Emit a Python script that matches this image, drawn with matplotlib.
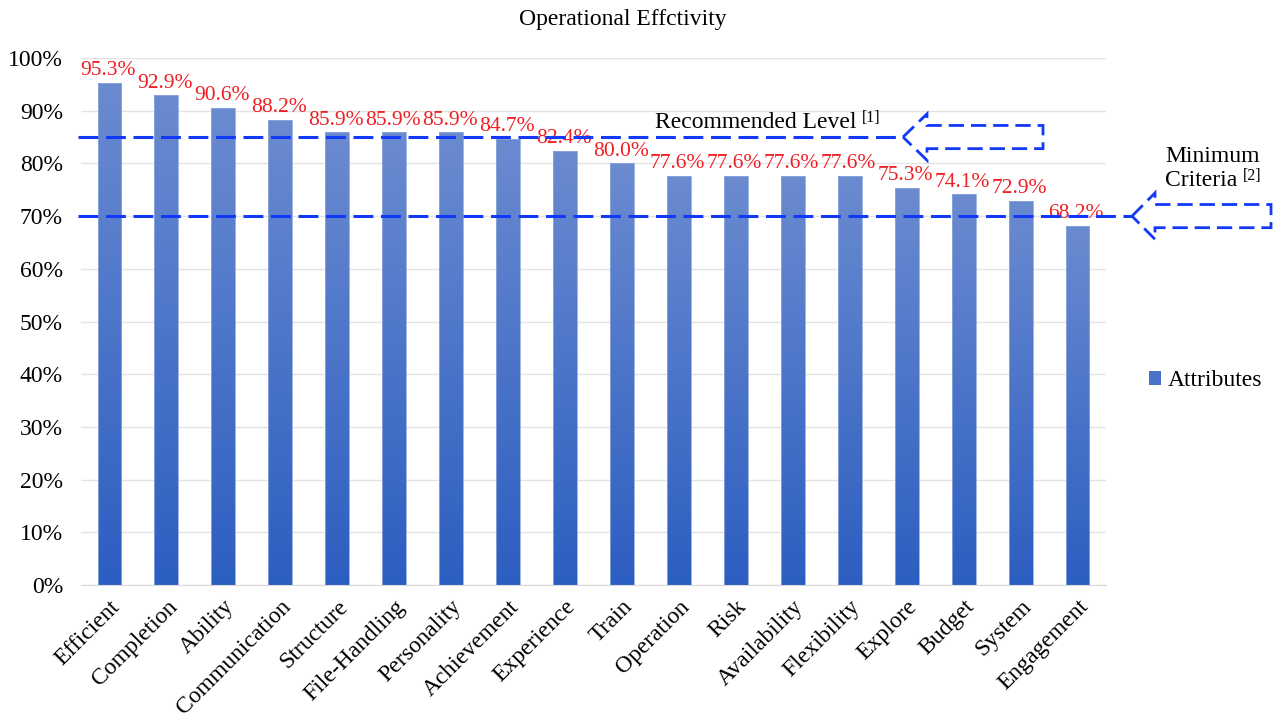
import matplotlib
matplotlib.use("Agg")
import matplotlib.pyplot as plt
import numpy as np
from matplotlib.patches import Polygon, Patch
from matplotlib.colors import LinearSegmentedColormap
from matplotlib.transforms import blended_transform_factory

categories = ["Efficient", "Completion", "Ability", "Communication", "Structure",
              "File-Handling", "Personality", "Achievement", "Experience", "Train",
              "Operation", "Risk", "Availability", "Flexibility", "Explore",
              "Budget", "System", "Engagement"]
values = [95.3, 92.9, 90.6, 88.2, 85.9, 85.9, 85.9, 84.7, 82.4, 80.0,
          77.6, 77.6, 77.6, 77.6, 75.3, 74.1, 72.9, 68.2]
recommended_level = 85.0
minimum_criteria = 70.0
yticks = [0, 10, 20, 30, 40, 50, 60, 70, 80, 90, 100]

plt.rcParams['font.family'] = ['Liberation Serif', 'DejaVu Serif']

W, H = 1274, 717
fig = plt.figure(figsize=(W / 100, H / 100), dpi=100)

def fx(px):
    return px / W

def fy(py):
    return 1 - py / H

ax = fig.add_axes([fx(81), fy(585), fx(1106) - fx(81), fy(58) - fy(585)])

x = np.arange(len(categories))
bars = ax.bar(x, values, width=0.42, color='none', edgecolor='#8fa8dc',
              linewidth=0.6, zorder=3)

cmap = LinearSegmentedColormap.from_list("bar_grad", ["#2c5ec1", "#6b8bd0"])
grad = np.linspace(0, 1, 256).reshape(-1, 1)
for b in bars:
    x0, w, h = b.get_x(), b.get_width(), b.get_height()
    im = ax.imshow(grad, cmap=cmap, origin='lower', aspect='auto',
                   extent=[x0, x0 + w, 0, h], zorder=2)
    im.set_clip_path(b)

for xi, v in zip(x, values):
    ax.annotate(f"{v:.1f}%", (xi, v), xytext=(-1, 2), textcoords='offset points',
                ha='center', va='bottom', color='#f01e23', fontsize=15.5, zorder=5)

ax.set_xlim(-0.5, len(categories) - 0.5)
ax.set_ylim(0, 100)
ax.set_yticks(yticks)
ax.set_yticklabels([f"{t}%" for t in yticks], fontsize=17)
ax.set_xticks(x)
ax.set_xticklabels(categories, rotation=45, ha='right', rotation_mode='anchor',
                   fontsize=17)
ax.tick_params(axis='y', length=0, pad=13)
ax.tick_params(axis='x', length=0, pad=8)
ax.grid(axis='y', color='#e3e3e3', linewidth=1, zorder=0)
ax.set_axisbelow(True)
for s in ['top', 'right', 'left']:
    ax.spines[s].set_visible(False)
ax.spines['bottom'].set_color('#d9d9d9')

# Reference lines with notched arrows, x in axes fraction, y in data units
trans = blended_transform_factory(ax.transAxes, ax.transData)

def ax_frac(px):
    return (px - 81) / (1106 - 81)

line_color = '#1238f8'
dash = (6.5, 2.5)

def level_with_arrow(level, tip_px, head_px, end_px):
    ax.plot([ax_frac(78), ax_frac(tip_px)], [level, level], transform=trans,
            color=line_color, lw=2.2, dashes=dash, clip_on=False, zorder=6)
    hh, bh = 4.4, 2.2
    pts = [(ax_frac(tip_px), level),
           (ax_frac(head_px), level + hh),
           (ax_frac(head_px), level + bh),
           (ax_frac(end_px), level + bh),
           (ax_frac(end_px), level - bh),
           (ax_frac(head_px), level - bh),
           (ax_frac(head_px), level - hh)]
    poly = Polygon(pts, closed=True, fill=False, edgecolor=line_color, lw=2.0,
                   linestyle=(0, (5.5, 2.5)), transform=trans, clip_on=False,
                   zorder=6)
    ax.add_patch(poly)

level_with_arrow(recommended_level, 903, 927, 1043)
level_with_arrow(minimum_criteria, 1132, 1155, 1271)

# Annotations with bracketed reference marks
rec = fig.text(fx(655), fy(123), "Recommended Level", fontsize=17,
               ha='left', va='center')
ax.annotate("[1]", xy=(1, 0.75), xycoords=rec, xytext=(4, 0),
            textcoords='offset points', fontsize=11.5, ha='left', va='center',
            annotation_clip=False)
fig.text(fx(1165), fy(156), "Minimum", fontsize=17, ha='left', va='center')
crit = fig.text(fx(1165), fy(181), "Criteria", fontsize=17, ha='left', va='center')
ax.annotate("[2]", xy=(1, 0.75), xycoords=crit, xytext=(4, 0),
            textcoords='offset points', fontsize=11.5, ha='left', va='center',
            annotation_clip=False)

fig.text(fx(623), fy(20), "Operational Effctivity", fontsize=17,
         ha='center', va='center')

handle = Patch(facecolor='#4a72c8', edgecolor='none')
fig.legend([handle], ["Attributes"], loc='center left',
           bbox_to_anchor=(fx(1128), fy(381)), frameon=False, fontsize=17,
           handlelength=0.5, handleheight=0.5, handletextpad=0.3)

fig.savefig("out.png", dpi=100)
